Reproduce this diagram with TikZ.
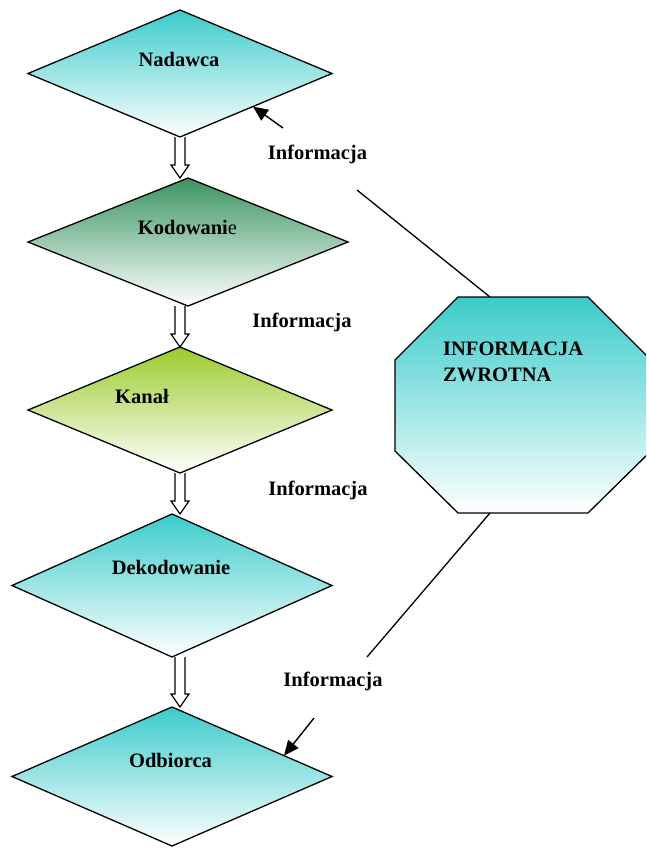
\documentclass[tikz,border=0pt]{standalone}
\usepackage{fontspec}
\setmainfont{Liberation Serif}
\usetikzlibrary{shapes.geometric,arrows.meta,calc}
\definecolor{tealtop}{HTML}{3CCBCB}
\definecolor{greentop}{HTML}{3A9460}
\definecolor{limetop}{HTML}{9BCB2C}
\tikzset{
  dia/.style={diamond, draw=black, line width=1.3pt, inner sep=0pt, outer sep=0pt, bottom color=white},
  txt/.style={font=\fontsize{20.5}{26}\selectfont\bfseries, inner sep=0pt, anchor=base},
  hollow/.style={draw=black, line width=1.2pt, line join=miter},
  thinline/.style={draw=black, line width=1.3pt},
  ptr/.style={draw=black, line width=1.4pt, -{Triangle[length=15pt,width=13pt]}}
}
\newcommand\harrow[2]{%
  \draw[hollow] ($(ax |- #1.south)+(-5,0)$) -- ($(ax |- #2.north)+(-5,-13)$) -- ($(ax |- #2.north)+(-9,-13)$) -- (ax |- #2.north) -- ($(ax |- #2.north)+(9,-13)$) -- ($(ax |- #2.north)+(5,-13)$) -- ($(ax |- #1.south)+(5,0)$);}
\begin{document}
\begin{tikzpicture}[x=1pt,y=-1pt]
\useasboundingbox (0,0) rectangle (646,848);
\clip (0,0) rectangle (646,848);
\coordinate (ax) at (180,0);
% diamonds
\node[dia, top color=tealtop, minimum width=304pt, minimum height=127pt] (nad) at (180,73.5) {};
\node[dia, top color=greentop, minimum width=320pt, minimum height=128pt] (kod) at (188,242) {};
\node[dia, top color=limetop, minimum width=304pt, minimum height=126pt] (kan) at (180,410) {};
\node[dia, top color=tealtop, minimum width=320pt, minimum height=143pt] (dek) at (172,585.5) {};
\node[dia, top color=tealtop, minimum width=320pt, minimum height=139pt] (odb) at (172,776.5) {};
% labels in diamonds
\node[txt] (tnad) at (179,67) {Nadawca};
\node[txt] (tkod) at (187.5,234) {Kodowani\textmd{e}};
\node[txt] (tkan) at (142,403) {Kanał};
\node[txt] (tdek) at (171,574) {Dekodowanie};
\node[txt] (todb) at (170.5,767) {Odbiorca};
% hollow arrows
\harrow{nad}{kod}
\harrow{kod}{kan}
\harrow{kan}{dek}
\harrow{dek}{odb}
% Informacja labels
\node[txt] (i1) at (317.5,159) {Informacja};
\node[txt] (i2) at (302,327) {Informacja};
\node[txt] (i3) at (318,495) {Informacja};
\node[txt] (i4) at (333,686) {Informacja};
% octagon
\coordinate (o1) at (458,297);
\coordinate (o2) at (588,297);
\coordinate (o3) at (651,360);
\coordinate (o4) at (651,451);
\coordinate (o5) at (588,513);
\coordinate (o6) at (458,513);
\coordinate (o7) at (395,451);
\coordinate (o8) at (395,360);
\shade[top color=tealtop, bottom color=white] (o1) -- (o2) -- (o3) -- (o4) -- (o5) -- (o6) -- (o7) -- (o8) -- cycle;
\draw[line width=1.3pt, line join=miter] (o1) -- (o2) -- (o3) -- (o4) -- (o5) -- (o6) -- (o7) -- (o8) -- cycle;
\node[txt, anchor=base west, align=left] (fb) at (443,381) {INFORMACJA\\ZWROTNA};
% feedback lines
\coordinate (otop) at ($(o1)!0.246!(o2)$);
\coordinate (obot) at ($(o6)!0.246!(o5)$);
\coordinate (l1) at (357,190);
\coordinate (l2) at (367,657);
\draw[thinline] (l1) -- (otop);
\draw[thinline] (obot) -- (l2);
% pointer arrows
\coordinate (p1) at (283,128);
\coordinate (p2) at (314,718);
\draw[ptr] (p1) -- ($(nad.east)!0.52!(nad.south)$);
\draw[ptr] (p2) -- ($(odb.east)!0.3!(odb.north)$);
\end{tikzpicture}
\end{document}
